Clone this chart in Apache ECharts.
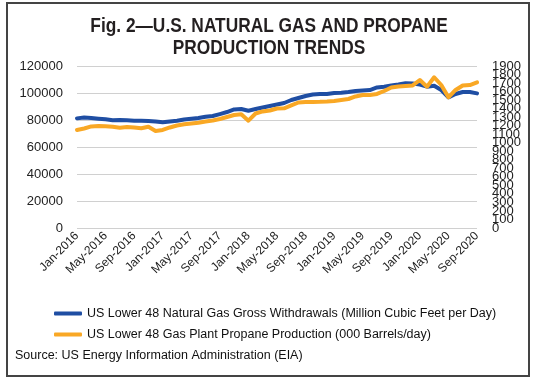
<!DOCTYPE html>
<html>
<head>
<meta charset="utf-8">
<script src="https://cdn.jsdelivr.net/npm/echarts@6/dist/echarts.min.js"></script>
<style>
html,body{margin:0;padding:0;background:#fff;}
#chart{width:536px;height:386px;}
</style>
</head>
<body>
<div id="chart"></div>
<script>
const monthNames = ['Jan','Feb','Mar','Apr','May','Jun','Jul','Aug','Sep','Oct','Nov','Dec'];
const categories = [];
for (let y = 2016; y <= 2020; y++) {
  for (let m = 0; m < 12; m++) {
    if (y === 2020 && m > 8) break;
    categories.push(monthNames[m] + '-' + y);
  }
}
const gasWithdrawals = [
  81200, 81800, 81500, 81000, 80500, 79800, 80000, 79800, 79500, 79400, 79300, 78900,
  78300, 78900, 79500, 80400, 80900, 81500, 82400, 83000, 84400, 85900, 87800, 88100,
  86900, 88100, 89300, 90400, 91500, 92600, 94800, 96300, 97800, 98900, 99300, 99300,
  100000, 100200, 100700, 101500, 101800, 102200, 104100, 104700, 105600, 106300, 107200, 107000,
  106300, 104700, 105400, 102200, 96800, 99300, 100700, 100700, 99700
];
const propaneProduction = [
  1150, 1167, 1191, 1196, 1193, 1187, 1176, 1185, 1179, 1170, 1188, 1138,
  1150, 1179, 1202, 1216, 1226, 1235, 1249, 1261, 1279, 1302, 1325, 1334,
  1259, 1343, 1367, 1378, 1402, 1404, 1437, 1472, 1478, 1478, 1480, 1484,
  1490, 1501, 1513, 1543, 1560, 1560, 1572, 1607, 1648, 1660, 1666, 1672,
  1736, 1657, 1768, 1677, 1533, 1619, 1672, 1677, 1709
];
const seriesNames = [
  'US Lower 48 Natural Gas Gross Withdrawals (Million Cubic Feet per Day)',
  'US Lower 48 Gas Plant Propane Production (000 Barrels/day)'
];
const titleLines = ['Fig. 2\u2014U.S. NATURAL GAS AND PROPANE', 'PRODUCTION TRENDS'];
const sourceText = 'Source: US Energy Information Administration (EIA)';
const rightMin = 0, rightMax = 1900, rightStep = 100;

const chart = echarts.init(document.getElementById('chart'));
const labelFont = 'Liberation Sans, Arial, sans-serif';
const titleFont = 'bold 20.5px Liberation Sans, Arial, sans-serif';
const rightLabelBase = {fontFamily: labelFont, fontSize: 13, color: '#222', margin: 15, hideOverlap: false};
chart.setOption({
  backgroundColor: '#fff',
  animation: false,
  grid: {left: 77, right: 59, top: 66, bottom: 158},
  legend: {
    orient: 'vertical',
    left: 49,
    top: 302,
    itemWidth: 28,
    itemHeight: 4,
    itemGap: 8,
    icon: 'roundRect',
    data: seriesNames,
    textStyle: {fontFamily: labelFont, fontSize: 12.5, color: '#111'}
  },
  xAxis: {
    type: 'category',
    data: categories,
    boundaryGap: false,
    axisLine: {show: false},
    axisTick: {show: false},
    axisLabel: {
      interval: 3,
      rotate: 45,
      margin: 6,
      fontFamily: labelFont,
      fontSize: 12,
      color: '#222'
    },
    splitLine: {show: false}
  },
  yAxis: [
    {
      type: 'value',
      min: 0, max: 120000, interval: 20000,
      axisLine: {show: false},
      axisTick: {show: false},
      axisLabel: {fontFamily: labelFont, fontSize: 13, color: '#222', margin: 14,
        showMinLabel: true, showMaxLabel: true, formatter: v => String(v)},
      splitLine: {lineStyle: {color: '#d0d0d0', width: 1}}
    },
    {
      type: 'value',
      min: rightMin, max: rightMax, interval: rightStep,
      position: 'right',
      axisLine: {show: false},
      axisTick: {show: false},
      axisLabel: Object.assign({}, rightLabelBase, {showMinLabel: false, showMaxLabel: false,
        formatter: v => String(v)}),
      splitLine: {show: false}
    },
    {
      type: 'value',
      min: rightMin, max: rightMax, interval: rightStep,
      position: 'right',
      axisLine: {show: false},
      axisTick: {show: false},
      axisLabel: Object.assign({}, rightLabelBase, {showMinLabel: true, showMaxLabel: true,
        formatter: v => (v === rightMin || v === rightMax) ? String(v) : ''}),
      splitLine: {show: false}
    }
  ],
  series: [
    {
      name: seriesNames[0],
      type: 'line',
      data: gasWithdrawals,
      yAxisIndex: 0,
      showSymbol: false,
      lineStyle: {color: '#1f4ea3', width: 4, cap: 'round', join: 'round'},
      itemStyle: {color: '#1f4ea3'}
    },
    {
      name: seriesNames[1],
      type: 'line',
      data: propaneProduction,
      yAxisIndex: 1,
      showSymbol: false,
      lineStyle: {color: '#f9a825', width: 4, cap: 'round', join: 'round'},
      itemStyle: {color: '#f9a825'}
    }
  ],
  graphic: [
    {
      type: 'rect',
      shape: {x: 7, y: 3, width: 522, height: 373},
      style: {fill: 'none', stroke: '#444', lineWidth: 2},
      silent: true
    },
    {
      type: 'text',
      x: 269, y: 26, scaleX: 0.845,
      style: {text: titleLines[0], font: titleFont, fill: '#231f20', align: 'center', verticalAlign: 'middle'}
    },
    {
      type: 'text',
      x: 269, y: 48, scaleX: 0.845,
      style: {text: titleLines[1], font: titleFont, fill: '#231f20', align: 'center', verticalAlign: 'middle'}
    },
    {
      type: 'text',
      left: 15,
      top: 349,
      style: {text: sourceText, font: '12.5px Liberation Sans, Arial, sans-serif', fill: '#111'}
    }
  ]
});
</script>
</body>
</html>
